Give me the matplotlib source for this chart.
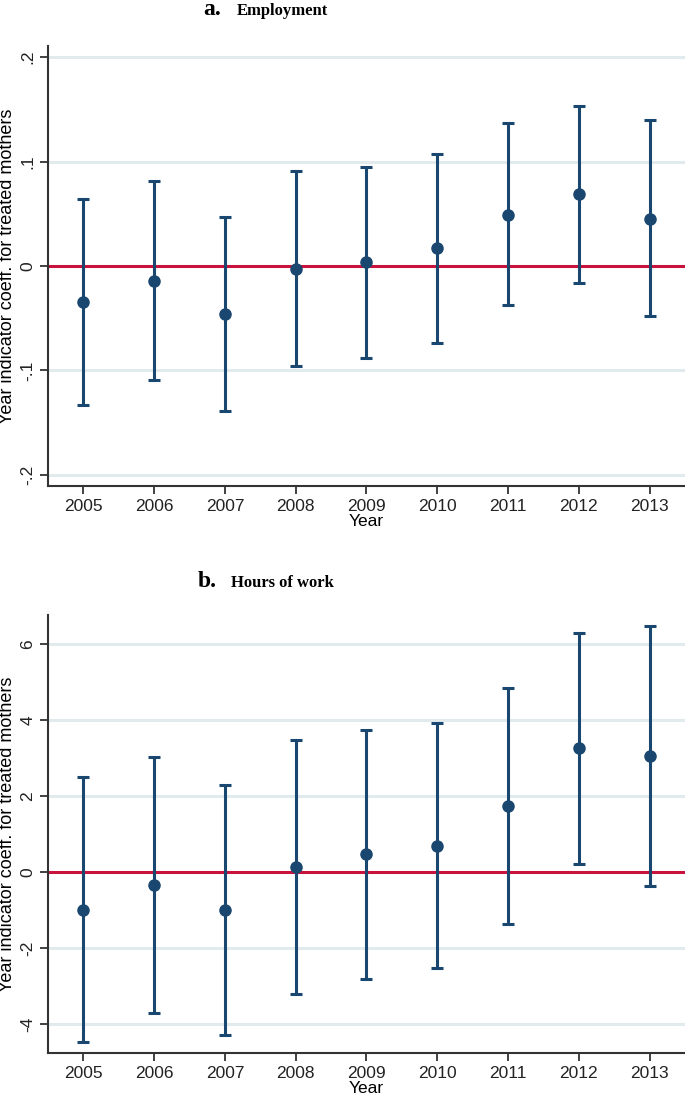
import matplotlib.pyplot as plt
import numpy as np

plt.rcParams["font.family"] = ["Liberation Sans", "DejaVu Sans"]

years = [2005, 2006, 2007, 2008, 2009, 2010, 2011, 2012, 2013]

# panel a: employment
emp_coef = [-0.035, -0.014, -0.046, -0.003, 0.004, 0.017, 0.049, 0.069, 0.045]
emp_hi = [0.064, 0.081, 0.047, 0.091, 0.095, 0.107, 0.137, 0.153, 0.140]
emp_lo = [-0.133, -0.109, -0.139, -0.096, -0.088, -0.074, -0.037, -0.016, -0.048]

# panel b: hours of work
hrs_coef = [-0.99, -0.34, -1.00, 0.14, 0.47, 0.69, 1.74, 3.26, 3.05]
hrs_hi = [2.50, 3.02, 2.29, 3.47, 3.75, 3.92, 4.86, 6.29, 6.47]
hrs_lo = [-4.46, -3.72, -4.29, -3.20, -2.80, -2.53, -1.37, 0.22, -0.36]

emp_ticks = [-0.2, -0.1, 0.0, 0.1, 0.2]
emp_ticklabels = ["-.2", "-.1", "0", ".1", ".2"]
hrs_ticks = [-4, -2, 0, 2, 4, 6]
hrs_ticklabels = ["-4", "-2", "0", "2", "4", "6"]

NAVY = "#1a476f"
RED = "#c8143c"
GRID = "#e1ebee"
AXC = "#333333"


def draw_panel(ax, coef, lo, hi, yticks, yticklabels, ylim):
    coef = np.asarray(coef)
    err = np.vstack([coef - np.asarray(lo), np.asarray(hi) - coef])
    for t in yticks:
        if t != 0:
            ax.axhline(t, color=GRID, lw=2.2, zorder=0)
    ax.axhline(0, color=RED, lw=2.2, zorder=1)
    ax.errorbar(years, coef, yerr=err, fmt="o", color=NAVY, ms=8,
                elinewidth=2.2, capsize=4, capthick=2.2, zorder=3)
    ax.set_xlim(2004.5, 2013.5)
    ax.set_ylim(*ylim)
    ax.set_xticks(years)
    ax.set_xticklabels([str(y) for y in years])
    ax.set_yticks(yticks)
    ax.set_yticklabels(yticklabels, rotation=90, va="center")
    ax.set_xlabel("Year", fontsize=12.5, labelpad=0)
    ax.set_ylabel("Year indicator coeff. for treated mothers", fontsize=13, labelpad=3)
    for s in ("top", "right"):
        ax.spines[s].set_visible(False)
    for s in ("left", "bottom"):
        ax.spines[s].set_color(AXC)
        ax.spines[s].set_linewidth(1.5)
    ax.tick_params(axis="both", colors=AXC, width=1.3, length=6, labelsize=12.5,
                   labelcolor="#222222")
    ax.tick_params(axis="y", pad=3)


fig = plt.figure(figsize=(6.85, 10.99), dpi=100)

ax1 = fig.add_axes([0.070, 0.558, 0.930, 0.400])
draw_panel(ax1, emp_coef, emp_lo, emp_hi, emp_ticks, emp_ticklabels, (-0.2106, 0.2106))

ax2 = fig.add_axes([0.070, 0.042, 0.930, 0.398])
draw_panel(ax2, hrs_coef, hrs_lo, hrs_hi, hrs_ticks, hrs_ticklabels, (-4.756, 6.76))

serif = ["Liberation Serif", "DejaVu Serif"]
fig.text(203 / 685, 1 - 15 / 1099, "a.", family=serif, weight="bold", fontsize=17, va="baseline")
fig.text(237 / 685, 1 - 15 / 1099, "Employment", family=serif, weight="bold", fontsize=12, va="baseline")
fig.text(198 / 685, 1 - 587 / 1099, "b.", family=serif, weight="bold", fontsize=17, va="baseline")
fig.text(231 / 685, 1 - 587 / 1099, "Hours of work", family=serif, weight="bold", fontsize=12, va="baseline")

fig.savefig("out.png", dpi=100)
plt.close()
